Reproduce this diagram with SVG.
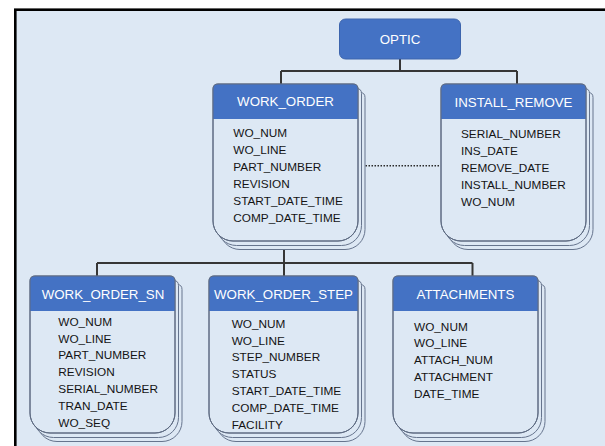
<svg xmlns="http://www.w3.org/2000/svg" xmlns:xlink="http://www.w3.org/1999/xlink" width="605" height="446" viewBox="0 0 605 446">
  <style>
    .frame { fill: #dde8f4; stroke: #000; stroke-width: 2.6; }
    .back { fill: #dde8f4; stroke: #66748d; stroke-width: 1; }
    .card { fill: #dde8f4; stroke: #5e6b82; stroke-width: 1; }
    .edge { fill: none; stroke: #5e6b82; stroke-width: 1; }
    .head { fill: #4472c4; }
    .title { font-family: "Liberation Sans", Arial, sans-serif; font-size: 13.3px; fill: #fff; text-anchor: middle; }
    .field { font-family: "Liberation Sans", Arial, sans-serif; font-size: 11.8px; fill: #141414; }
    .link { fill: none; stroke: #363636; stroke-width: 2; }
    .dotted { fill: none; stroke: #2b2b2b; stroke-width: 1.6; stroke-dasharray: 1.5 1.5; }
  </style>
  <defs>
    <!-- entity card: small top radius, large bottom radius -->
    <path id="cardA" d="M5,0 H140 Q145,0 145,5 V137 A20,20 0 0 1 125,157 H20 A20,20 0 0 1 0,137 V5 Q0,0 5,0 Z"/>
    <path id="headA" d="M0,5 Q0,0 5,0 H140 Q145,0 145,5 V35 H0 Z"/>
    <path id="cardB" d="M5,0 H144 Q149,0 149,5 V137 A20,20 0 0 1 129,157 H20 A20,20 0 0 1 0,137 V5 Q0,0 5,0 Z"/>
    <path id="headB" d="M0,5 Q0,0 5,0 H144 Q149,0 149,5 V35 H0 Z"/>
  </defs>

  <rect x="0" y="0" width="605" height="446" fill="#fff"/>
  <rect class="frame" x="15.3" y="9.7" width="620" height="460"/>

  <g id="connectors">
    <path class="link" d="M400,59 V71 M281,71 H517 M281,71 V84 M517,71 V84"/>
    <path class="link" d="M284,250 V276 M97,263 H472.5 M97,263 V276 M472.5,263 V276"/>
    <path class="dotted" d="M365.5,165.7 H440.5"/>
  </g>

  <g id="optic">
    <rect x="339.5" y="19" width="121" height="40" rx="6" fill="#4472c4" stroke="#3c64ad" stroke-width="1"/>
    <text class="title" x="400" y="44">OPTIC</text>
  </g>

  <g id="work_order" transform="translate(213,84)">
    <use href="#cardA" x="7" y="8.5" class="back"/>
    <use href="#cardA" x="3.5" y="4.5" class="back"/>
    <use href="#cardA" class="card"/>
    <use href="#headA" class="head"/>
    <use href="#cardA" class="edge"/>
    <text class="title" x="72.5" y="22">WORK_ORDER</text>
    <text class="field" x="20.3" y="53.4">WO_NUM</text>
    <text class="field" x="20.3" y="70.3">WO_LINE</text>
    <text class="field" x="20.3" y="87.2">PART_NUMBER</text>
    <text class="field" x="20.3" y="104.1">REVISION</text>
    <text class="field" x="20.3" y="121">START_DATE_TIME</text>
    <text class="field" x="20.3" y="137.9">COMP_DATE_TIME</text>
  </g>

  <g id="install_remove" transform="translate(441,84)">
    <use href="#cardA" x="7" y="8.5" class="back"/>
    <use href="#cardA" x="3.5" y="4.5" class="back"/>
    <use href="#cardA" class="card"/>
    <use href="#headA" class="head"/>
    <use href="#cardA" class="edge"/>
    <text class="title" x="72.5" y="23">INSTALL_REMOVE</text>
    <text class="field" x="20" y="54.3">SERIAL_NUMBER</text>
    <text class="field" x="20" y="71.2">INS_DATE</text>
    <text class="field" x="20" y="88.1">REMOVE_DATE</text>
    <text class="field" x="20" y="105">INSTALL_NUMBER</text>
    <text class="field" x="20" y="121.9">WO_NUM</text>
  </g>

  <g id="work_order_sn" transform="translate(30,276)">
    <use href="#cardA" x="7" y="8.5" class="back"/>
    <use href="#cardA" x="3.5" y="4.5" class="back"/>
    <use href="#cardA" class="card"/>
    <use href="#headA" class="head"/>
    <use href="#cardA" class="edge"/>
    <text class="title" x="73" y="22.5">WORK_ORDER_SN</text>
    <text class="field" x="28.3" y="49.7">WO_NUM</text>
    <text class="field" x="28.3" y="66.5">WO_LINE</text>
    <text class="field" x="28.3" y="83.3">PART_NUMBER</text>
    <text class="field" x="28.3" y="100.1">REVISION</text>
    <text class="field" x="28.3" y="116.9">SERIAL_NUMBER</text>
    <text class="field" x="28.3" y="133.7">TRAN_DATE</text>
    <text class="field" x="28.3" y="150.5">WO_SEQ</text>
  </g>

  <g id="work_order_step" transform="translate(209,276)">
    <use href="#cardB" x="7" y="8.5" class="back"/>
    <use href="#cardB" x="3.5" y="4.5" class="back"/>
    <use href="#cardB" class="card"/>
    <use href="#headB" class="head"/>
    <use href="#cardB" class="edge"/>
    <text class="title" x="74.5" y="22.5">WORK_ORDER_STEP</text>
    <text class="field" x="22.7" y="51.7">WO_NUM</text>
    <text class="field" x="22.7" y="68.5">WO_LINE</text>
    <text class="field" x="22.7" y="85.3">STEP_NUMBER</text>
    <text class="field" x="22.7" y="102.1">STATUS</text>
    <text class="field" x="22.7" y="118.9">START_DATE_TIME</text>
    <text class="field" x="22.7" y="135.7">COMP_DATE_TIME</text>
    <text class="field" x="22.7" y="152.5">FACILITY</text>
  </g>

  <g id="attachments" transform="translate(393,276)">
    <use href="#cardA" x="7" y="8.5" class="back"/>
    <use href="#cardA" x="3.5" y="4.5" class="back"/>
    <use href="#cardA" class="card"/>
    <use href="#headA" class="head"/>
    <use href="#cardA" class="edge"/>
    <text class="title" x="72.5" y="22.5">ATTACHMENTS</text>
    <text class="field" x="21" y="54.5">WO_NUM</text>
    <text class="field" x="21" y="71.3">WO_LINE</text>
    <text class="field" x="21" y="88.1">ATTACH_NUM</text>
    <text class="field" x="21" y="104.9">ATTACHMENT</text>
    <text class="field" x="21" y="121.7">DATE_TIME</text>
  </g>
</svg>
